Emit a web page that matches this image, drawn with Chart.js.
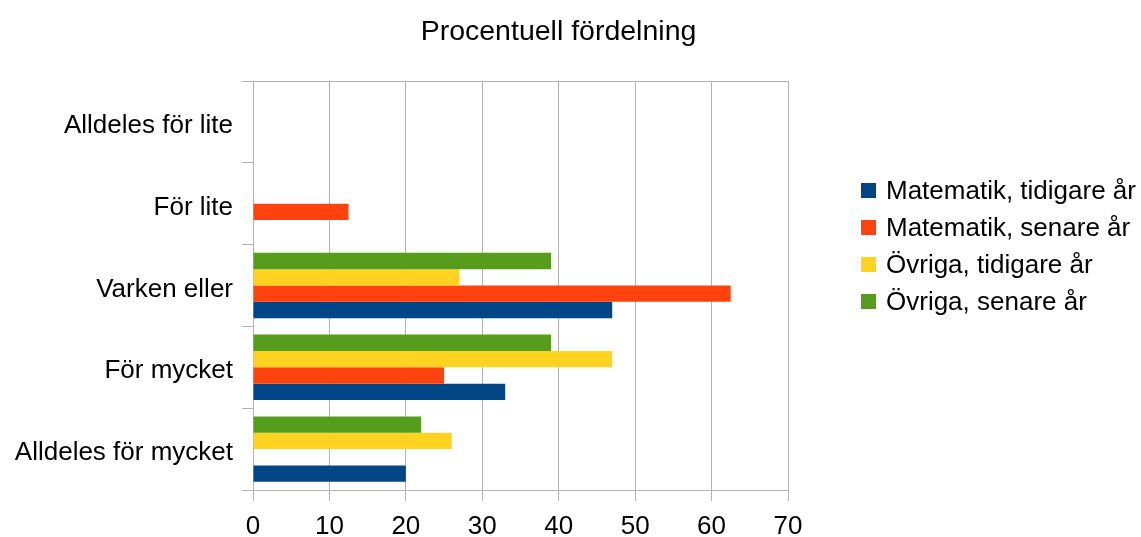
<!DOCTYPE html>
<html>
<head>
<meta charset="utf-8">
<script src="https://cdn.jsdelivr.net/npm/chart.js@4/dist/chart.umd.min.js"></script>
<style>
  html, body { margin: 0; padding: 0; background: #fff; }
  #wrap { width: 1141px; height: 537px; }
</style>
</head>
<body>
<div id="wrap"><canvas id="chart"></canvas></div>
<script>
// data (percent)
const categories = ['Alldeles för lite', 'För lite', 'Varken eller', 'För mycket', 'Alldeles för mycket'];
const seriesNames = ['Matematik, tidigare år', 'Matematik, senare år', 'Övriga, tidigare år', 'Övriga, senare år'];
const mathEarly  = [0, 0,    47,   33, 20];
const mathLate   = [0, 12.5, 62.5, 25, 0];
const otherEarly = [0, 0,    27,   47, 26];
const otherLate  = [0, 0,    39,   39, 22];
const xTicks = [0, 10, 20, 30, 40, 50, 60, 70];
const chartTitle = 'Procentuell fördelning';

const colors = ['#004586', '#ff420e', '#ffd320', '#579d1c'];
const gridGray = '#b3b3b3';
const font = 'Liberation Sans, Arial, sans-serif';

// first series sits at the bottom of each group, so feed them in reverse
const seriesData = [mathEarly, mathLate, otherEarly, otherLate];
const datasets = seriesData.map((d, i) => ({
  label: seriesNames[i],
  data: d,
  backgroundColor: colors[i],
  borderWidth: 0
})).reverse();

// title + legend drawn by hand so they sit where the original has them
const decorations = {
  id: 'decorations',
  afterDraw(chart) {
    const ctx = chart.ctx;
    ctx.save();
    ctx.fillStyle = '#000';
    ctx.textBaseline = 'alphabetic';
    ctx.textAlign = 'center';
    ctx.font = '28.5px ' + font;
    ctx.fillText(chartTitle, 558.5, 40);

    ctx.textAlign = 'left';
    ctx.font = '26px ' + font;
    seriesNames.forEach((name, i) => {
      const y = 183 + i * 37;
      ctx.fillStyle = colors[i];
      ctx.fillRect(861, y, 15, 15);
      ctx.fillStyle = '#000';
      ctx.fillText(name, 886, y + 16);
    });
    ctx.restore();
  }
};

new Chart(document.getElementById('chart'), {
  type: 'bar',
  data: { labels: categories, datasets },
  options: {
    indexAxis: 'y',
    responsive: true,
    maintainAspectRatio: false,
    animation: false,
    layout: { padding: { top: 81, right: 353, bottom: 0, left: 0 } },
    categoryPercentage: 0.8,
    barPercentage: 1,
    plugins: {
      legend: { display: false },
      title: { display: false },
      tooltip: { enabled: false }
    },
    scales: {
      x: {
        min: 0,
        max: 70,
        afterBuildTicks: s => { s.ticks = xTicks.map(v => ({ value: v })); },
        afterFit: s => { s.height = 47; },
        grid: { color: gridGray, tickColor: gridGray, tickLength: 11, lineWidth: 1 },
        border: { color: gridGray },
        ticks: { color: '#000', font: { family: font, size: 26 }, padding: 10 }
      },
      y: {
        afterFit: s => { s.width = 253; },
        grid: {
          offset: true,
          // only the outer frame lines cross the plot, inner ones stay as ticks
          color: c => (c.type === 'tick' && c.index > 0) ? 'rgba(0,0,0,0)' : gridGray,
          tickColor: gridGray,
          tickLength: 11
        },
        border: { color: gridGray },
        ticks: { color: '#000', font: { family: font, size: 26 }, padding: 9, labelOffset: 4 }
      }
    }
  },
  plugins: [decorations]
});
</script>
</body>
</html>
